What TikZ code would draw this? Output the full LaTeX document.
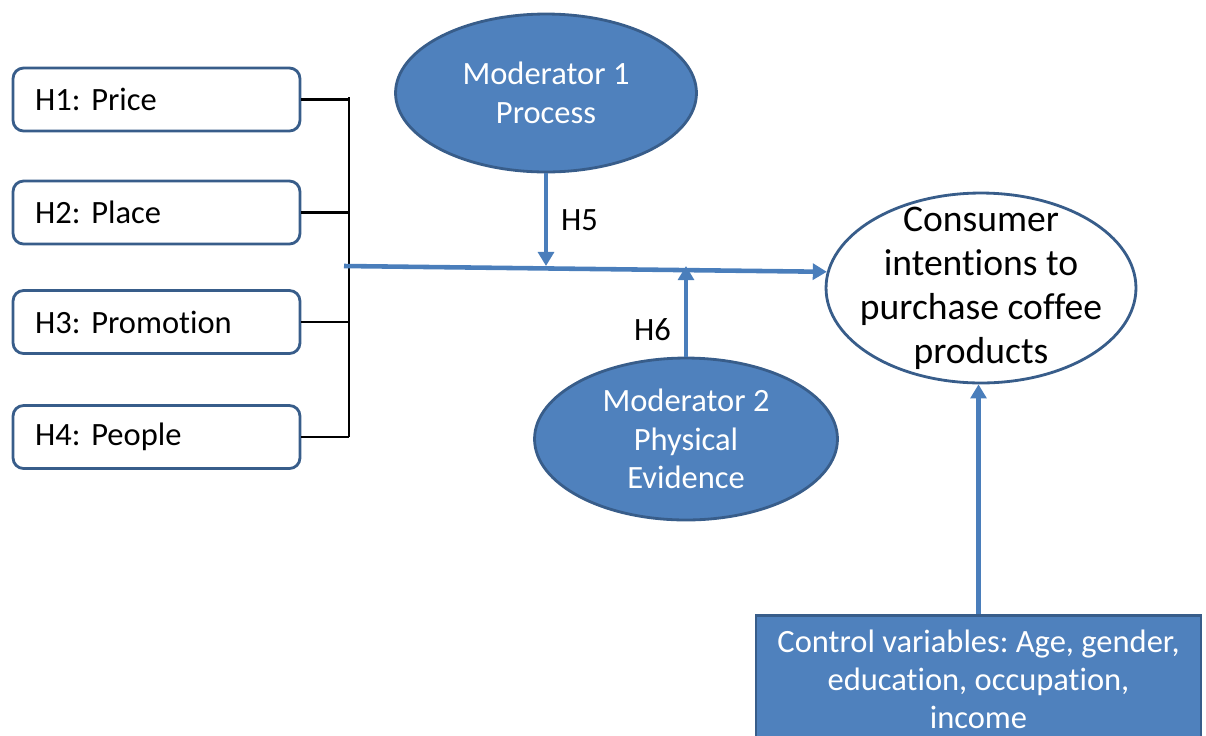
\documentclass[tikz,border=0pt]{standalone}
\usepackage{fontspec}
\setmainfont{Carlito}[Ligatures=NoCommon]
\frenchspacing
\usetikzlibrary{arrows.meta, positioning, shapes.geometric, calc}
\definecolor{ModFill}{HTML}{4F81BD}
\definecolor{ModEdge}{HTML}{385D8A}
\definecolor{LinkBlue}{HTML}{4A7EBB}
\tikzset{
  hbox/.style={draw=ModEdge, line width=1.6pt, rounded corners=6pt, fill=white,
    minimum width=5.74cm, minimum height=1.26cm, text width=4.86cm, inner xsep=0.44cm,
    align=left, font=\fontsize{18.5}{22}\selectfont},
  modell/.style={ellipse, draw=ModEdge, line width=1.6pt, fill=ModFill, text=white,
    inner sep=0pt, align=center, font=\fontsize{18.5}{22}\selectfont},
  outell/.style={ellipse, draw=ModEdge, line width=1.6pt, fill=white,
    inner xsep=-0.25cm, inner ysep=-0.45cm, align=center, font=\fontsize{21.4}{25}\selectfont},
  ctrlbox/.style={draw=ModEdge, line width=1.6pt, fill=ModFill, text=white,
    minimum width=8.9cm, minimum height=2.56cm, align=center,
    font=\fontsize{18.5}{21.8}\selectfont},
  hlabel/.style={font=\fontsize{18.5}{22}\selectfont},
  tick/.style={line width=1.4pt, draw=black},
  link/.style={-{Triangle[length=8pt, width=9pt]}, line width=2.6pt, draw=LinkBlue},
}
\begin{document}
\begin{tikzpicture}[x=0.02cm, y=-0.02cm]
    \useasboundingbox (0,0) rectangle (1206,735);
    % predictors
    \node[hbox] (h1) at (156.5,99.5) {H1: Price};
    \node[hbox] (h2) at (156.5,212.5) {H2: Place};
    \node[hbox] (h3) at (156.5,322) {H3: Promotion};
    \node[hbox] (h4) at (156.5,437) {H4: People};
    \coordinate (jtop) at (349,97);
    \coordinate (jbot) at (349,437);
    \coordinate (hub) at (344,266);
    % moderators and outcome
    \node[modell, minimum width=6.02cm, minimum height=3.16cm] (m1) at (546,93) {Moderator 1\\Process};
    \node[modell, minimum width=6.06cm, minimum height=3.24cm] (m2) at (686,439) {Moderator 2\\Physical\\Evidence};
    \node[outell, minimum width=6.2cm, minimum height=3.8cm] (cons) at (981,288) {Consumer\\intentions to\\purchase coffee\\products};
    \node[ctrlbox, anchor=north] (ctrl) at (978.5,614) {Control variables: Age, gender,\\education, occupation,\\income};
    % bracket
    \draw[tick] (jtop) -- (jbot);
    \draw[tick] (h1.east) -- (h1.east -| jtop);
    \draw[tick] (h2.east) -- (h2.east -| jtop);
    \draw[tick] (h3.east) -- (h3.east -| jtop);
    \draw[tick] (h4.east) -- (h4.east -| jtop);
    % paths
    \draw[link] (hub) -- (cons.174);
    \draw[link] (m1.south) -- node[hlabel, right=4pt] (h5) {H5} (m1.south |- hub);
    \draw[link] (m2.north) -- node[hlabel, left=4pt, pos=0.3] (h6) {H6} (m2.north |- hub);
    \draw[link] (ctrl.north) -- (ctrl.north |- cons.south);
\end{tikzpicture}
\end{document}
